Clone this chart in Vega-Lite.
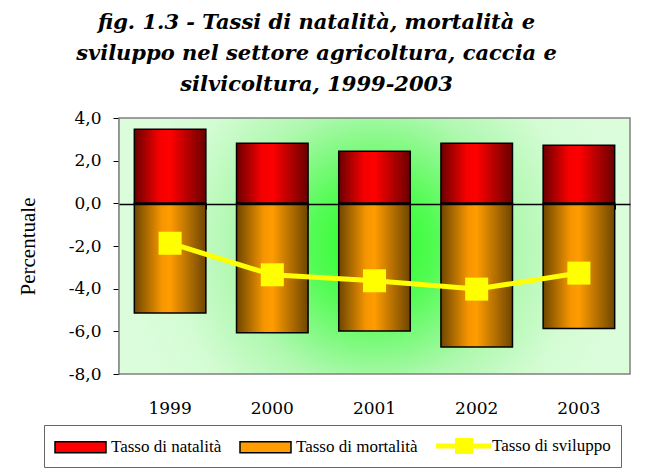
{
  "$schema": "https://vega.github.io/schema/vega-lite/v6.json",
  "width": 511,
  "height": 256,
  "autosize": "none",
  "padding": {"left": 119, "top": 118, "right": 27, "bottom": 101},
  "background": "white",
  "config": {
    "view": {"stroke": null},
    "axisY": {
      "titleFont": "Liberation Serif",
      "titleFontSize": 21,
      "titleFontWeight": "normal",
      "titleColor": "black",
      "titleX": -91,
      "titleBaseline": "middle",
      "labelFont": "DejaVu Serif",
      "labelFontSize": 17,
      "labelColor": "black",
      "labelPadding": 12,
      "tickColor": "black",
      "tickSize": 6,
      "domainColor": "black",
      "domainWidth": 1.5,
      "grid": false,
      "zindex": 2
    }
  },
  "title": {
    "text": ["fig. 1.3 - Tassi di natalità, mortalità e", "sviluppo nel settore agricoltura, caccia e", "silvicoltura, 1999-2003"],
    "font": "DejaVu Serif",
    "fontSize": 21,
    "fontWeight": "bold",
    "fontStyle": "italic",
    "lineHeight": 31,
    "anchor": "middle",
    "frame": "group",
    "dx": -58,
    "offset": 14,
    "color": "black"
  },
  "datasets": {
    "tassi": [
      {"anno": "1999", "serie": "Tasso di natalità", "valore": 3.47},
      {"anno": "2000", "serie": "Tasso di natalità", "valore": 2.82},
      {"anno": "2001", "serie": "Tasso di natalità", "valore": 2.44},
      {"anno": "2002", "serie": "Tasso di natalità", "valore": 2.82},
      {"anno": "2003", "serie": "Tasso di natalità", "valore": 2.72},
      {"anno": "1999", "serie": "Tasso di mortalità", "valore": -5.14},
      {"anno": "2000", "serie": "Tasso di mortalità", "valore": -6.07},
      {"anno": "2001", "serie": "Tasso di mortalità", "valore": -5.98},
      {"anno": "2002", "serie": "Tasso di mortalità", "valore": -6.73},
      {"anno": "2003", "serie": "Tasso di mortalità", "valore": -5.87},
      {"anno": "1999", "serie": "Tasso di sviluppo", "valore": -1.87},
      {"anno": "2000", "serie": "Tasso di sviluppo", "valore": -3.35},
      {"anno": "2001", "serie": "Tasso di sviluppo", "valore": -3.63},
      {"anno": "2002", "serie": "Tasso di sviluppo", "valore": -4.02},
      {"anno": "2003", "serie": "Tasso di sviluppo", "valore": -3.27}
    ]
  },
  "data": {"name": "tassi"},
  "layer": [
    {
      "data": {"values": [{"k": 1}]},
      "mark": {
        "type": "rect",
        "stroke": "#808080",
        "strokeWidth": 1.5,
        "fill": {
          "gradient": "radial",
          "x1": 0.5, "y1": 0.5, "r1": 0,
          "x2": 0.5, "y2": 0.5, "r2": 0.5,
          "stops": [
            {"offset": 0, "color": "#22ff22"},
            {"offset": 0.25, "color": "#55fb55"},
            {"offset": 0.55, "color": "#b0f8b0"},
            {"offset": 0.8, "color": "#d4fcd4"},
            {"offset": 1, "color": "#dcfddc"}
          ]
        }
      },
      "encoding": {}
    },
    {
      "transform": [{"filter": "datum.serie === 'Tasso di natalità'"}],
      "mark": {
        "type": "bar", "stroke": "black", "strokeWidth": 1.5,
        "fill": {"gradient": "linear", "x1": 0, "y1": 0, "x2": 1, "y2": 0,
          "stops": [
            {"offset": 0, "color": "#6a0000"},
            {"offset": 0.35, "color": "#f50000"},
            {"offset": 0.5, "color": "#ff0000"},
            {"offset": 1, "color": "#6a0000"}
          ]}
      },
      "encoding": {
        "x": {
          "field": "anno",
          "type": "ordinal",
          "scale": {"paddingInner": 0.3, "paddingOuter": 0.15},
          "axis": {
            "orient": "bottom",
            "title": null,
            "domain": false,
            "ticks": false,
            "labelPadding": 26,
            "labelFont": "DejaVu Serif",
            "labelFontSize": 17,
            "labelColor": "black",
            "labelAngle": 0,
            "grid": false
          }
        },
        "y": {
          "field": "valore",
          "type": "quantitative",
          "title": "Percentuale",
          "scale": {"domain": [-8, 4], "nice": false, "zero": false},
          "axis": {
            "values": [-8, -6, -4, -2, 0, 2, 4],
            "labelExpr": "replace(replace(format(datum.value, '.1f'), '.', ','), '\u2212', '-')"
          }
        }
      }
    },
    {
      "transform": [{"filter": "datum.serie === 'Tasso di mortalità'"}],
      "mark": {
        "type": "bar", "stroke": "black", "strokeWidth": 1.5,
        "fill": {"gradient": "linear", "x1": 0, "y1": 0, "x2": 1, "y2": 0,
          "stops": [
            {"offset": 0, "color": "#6e4600"},
            {"offset": 0.38, "color": "#f59500"},
            {"offset": 0.5, "color": "#ff9c00"},
            {"offset": 1, "color": "#6e4600"}
          ]}
      },
      "encoding": {
        "x": {"field": "anno", "type": "ordinal", "axis": null},
        "y": {"field": "valore", "type": "quantitative", "title": "Percentuale"}
      }
    },
    {
      "transform": [{"filter": "datum.serie === 'Tasso di sviluppo'"}],
      "mark": {"type": "line", "color": "#ffff00", "strokeWidth": 5},
      "encoding": {
        "x": {
          "field": "anno",
          "type": "ordinal",
          "axis": {
            "orient": "bottom",
            "offset": -170,
            "labels": false,
            "title": null,
            "domainColor": "black",
            "domainWidth": 1.5,
            "tickColor": "black",
            "tickSize": 5,
            "tickWidth": 1,
            "tickBand": "extent",
            "grid": false,
            "zindex": 2
          }
        },
        "y": {"field": "valore", "type": "quantitative", "title": "Percentuale"}
      }
    },
    {
      "transform": [{"filter": "datum.serie === 'Tasso di sviluppo'"}],
      "mark": {"type": "point", "shape": "square", "filled": true, "size": 529, "opacity": 1},
      "encoding": {
        "x": {"field": "anno", "type": "ordinal", "axis": null},
        "y": {"field": "valore", "type": "quantitative", "title": "Percentuale"},
        "color": {
          "field": "serie",
          "type": "nominal",
          "scale": {
            "domain": ["Tasso di natalità", "Tasso di mortalità", "Tasso di sviluppo"],
            "range": ["#ff0000", "#ff9c00", "#ffff00"]
          },
          "legend": {
            "orient": "none",
            "legendX": -75,
            "legendY": 307,
            "direction": "horizontal",
            "title": null,
            "fillColor": "white",
            "strokeColor": "#666666",
            "padding": 10,
            "labelFont": "Liberation Serif",
            "labelFontSize": 17,
            "labelColor": "black",
            "labelOffset": 35,
            "columnPadding": 15,
            "symbolSize": 400,
            "symbolStrokeWidth": 1.5,
            "symbolOpacity": 1,
            "encode": {
              "symbols": {
                "update": {
                  "shape": {"signal": "datum.value === 'Tasso di sviluppo' ? 'M-1,-0.25H0.9V-0.8H2.7V-0.25H4.5V0.25H2.7V0.8H0.9V0.25H-1Z' : 'M-1,-0.55H4.1V0.55H-1Z'"},
                  "stroke": {"signal": "datum.value === 'Tasso di sviluppo' ? 'transparent' : 'black'"},
                  "strokeWidth": {"value": 1.5},
                  "fill": {"signal": "datum.value === 'Tasso di natalità' ? {gradient: 'linear', x1: 0, y1: 0, x2: 1, y2: 0, stops: [{offset: 0, color: '#6a0000'}, {offset: 0.45, color: '#ff0000'}, {offset: 1, color: '#6a0000'}]} : datum.value === 'Tasso di mortalità' ? {gradient: 'linear', x1: 0, y1: 0, x2: 1, y2: 0, stops: [{offset: 0, color: '#6e4600'}, {offset: 0.45, color: '#ff9c00'}, {offset: 1, color: '#6e4600'}]} : '#ffff00'"}
                }
              }
            }
          }
        }
      }
    }
  ],
  "resolve": {"axis": {"x": "independent"}}
}
